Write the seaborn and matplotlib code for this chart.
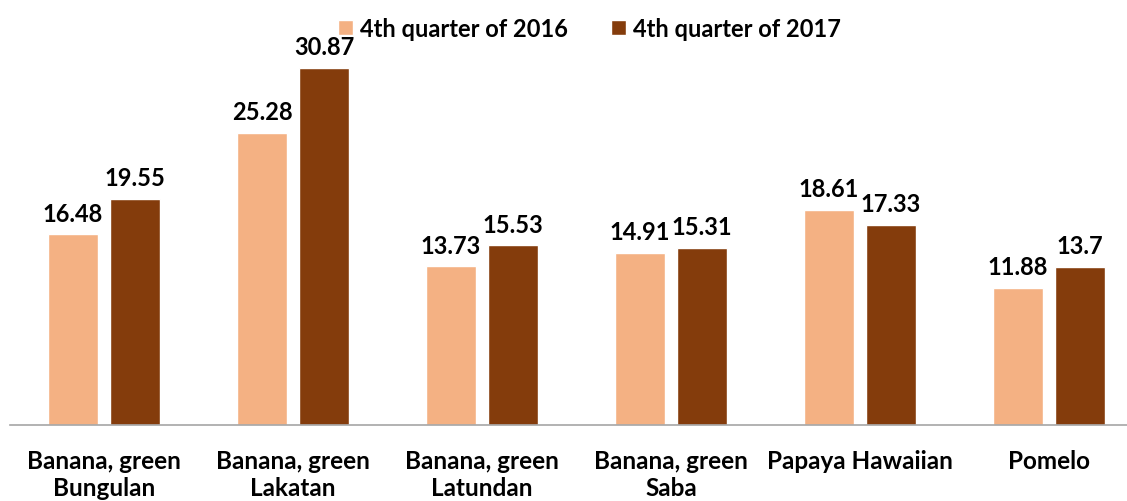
import pandas as pd
import matplotlib.pyplot as plt
import seaborn as sns

# Dữ liệu
categories = ["Banana, green\nBungulan", "Banana, green\nLakatan", "Banana, green\nLatundan",
              "Banana, green\nSaba", "Papaya Hawaiian", "Pomelo"]
q4_2016 = [16.48, 25.28, 13.73, 14.91, 18.61, 11.88]
q4_2017 = [19.55, 30.87, 15.53, 15.31, 17.33, 13.7]
series = ["4th quarter of 2016", "4th quarter of 2017"]
colors = ["#F4B183", "#843C0C"]

df = pd.DataFrame({
    "category": categories * 2,
    "value": q4_2016 + q4_2017,
    "series": [series[0]] * 6 + [series[1]] * 6,
})

sns.set_theme(style="white")
plt.rcParams["font.family"] = ["Lato", "DejaVu Sans"]
plt.rcParams["text.color"] = "black"

fig = plt.figure(figsize=(11.27, 5.02), dpi=100)
ax = fig.add_axes([9.5 / 1127, 76 / 502, 1134 / 1127, 426 / 502])

sns.barplot(data=df, x="category", y="value", hue="series", palette=colors,
            width=0.656, gap=0.19, ax=ax, saturation=1)

for cont, vals in zip(ax.containers, [q4_2016, q4_2017]):
    ax.bar_label(cont, labels=[f"{v:g}" for v in vals], padding=7,
                 fontsize=17, fontweight="bold", color="black")

ax.set_xlim(-0.5, 5.5)
ax.set_ylim(0, 36.85)
ax.set_xlabel("")
ax.set_ylabel("")
ax.set_yticks([])
ax.tick_params(axis="x", length=0, pad=17, labelcolor="black")
for lbl in ax.get_xticklabels():
    lbl.set_fontsize(17.5)
    lbl.set_fontweight("bold")
    lbl.set_linespacing(1.25)
for s in ["top", "right", "left"]:
    ax.spines[s].set_visible(False)
ax.spines["bottom"].set_color("#A6A6A6")
ax.spines["bottom"].set_linewidth(1.2)

handles, labels = ax.get_legend_handles_labels()
ax.get_legend().remove()
ax.legend(handles, labels, loc="upper center", bbox_to_anchor=(580 / 1134, 1.008),
          ncol=2, frameon=False, handlelength=0.65, handleheight=0.65,
          handletextpad=0.3, columnspacing=1.8, labelcolor="black",
          prop={"family": ["Lato", "DejaVu Sans"], "weight": "bold", "size": 17})

plt.savefig("out.png", dpi=100)
plt.close()
